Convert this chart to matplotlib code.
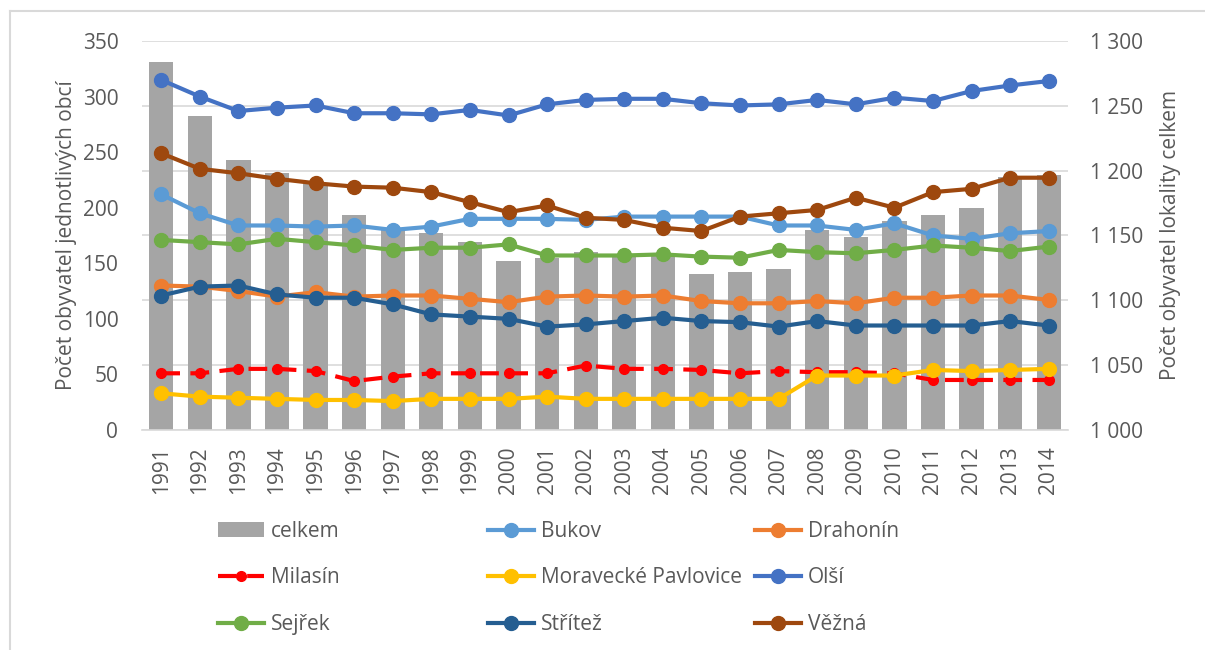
import matplotlib
matplotlib.use("Agg")
import matplotlib.pyplot as plt
from matplotlib.lines import Line2D
from matplotlib.ticker import FuncFormatter
import numpy as np

years = list(range(1991, 2015))

celkem = [1284, 1242, 1208, 1198, 1190, 1166, 1155, 1152, 1145, 1130, 1133, 1137,
          1136, 1135, 1120, 1122, 1124, 1154, 1149, 1161, 1166, 1171, 1195, 1197]

bukov = [212, 195, 184, 184, 183, 184, 180, 183, 190, 190, 190, 189,
         192, 192, 192, 192, 184, 184, 180, 186, 175, 172, 177, 179]
drahonin = [130, 129, 125, 120, 124, 120, 121, 121, 118, 115, 120, 121,
            120, 121, 116, 114, 114, 116, 114, 119, 119, 121, 121, 117]
milasin = [51, 51, 55, 55, 53, 44, 48, 51, 51, 51, 51, 58,
           55, 55, 54, 51, 53, 52, 52, 51, 45, 45, 45, 45]
mor_pavlovice = [33, 30, 29, 28, 27, 27, 26, 28, 28, 28, 30, 28,
                 28, 28, 28, 28, 28, 49, 49, 49, 54, 53, 54, 55]
olsi = [315, 300, 287, 290, 292, 285, 285, 284, 288, 283, 293, 297,
        298, 298, 294, 292, 293, 297, 293, 299, 296, 305, 310, 314]
sejrek = [171, 169, 167, 172, 169, 166, 162, 164, 164, 167, 157, 157,
          157, 158, 156, 155, 162, 160, 159, 162, 166, 164, 161, 165]
stritez = [121, 129, 130, 122, 119, 119, 113, 104, 102, 100, 93, 95,
           98, 101, 98, 97, 93, 98, 94, 94, 94, 94, 98, 94]
vezna = [249, 235, 231, 226, 222, 219, 218, 214, 205, 196, 202, 191,
         189, 182, 179, 192, 195, 198, 209, 200, 214, 217, 227, 227]

series = [
    ("Bukov", bukov, "#5B9BD5"),
    ("Drahonín", drahonin, "#ED7D31"),
    ("Milasín", milasin, "#FF0000"),
    ("Moravecké Pavlovice", mor_pavlovice, "#FFC000"),
    ("Olší", olsi, "#4472C4"),
    ("Sejřek", sejrek, "#70AD47"),
    ("Střítež", stritez, "#255E91"),
    ("Věžná", vezna, "#9E480E"),
]

TEXT = "#595959"
GRID = "#D9D9D9"
FS = 15
plt.rcParams["font.family"] = ["Open Sans", "DejaVu Sans"]
plt.rcParams["font.size"] = FS

fig = plt.figure(figsize=(12.05, 6.5), dpi=100)
ax = fig.add_axes([0.1178, 0.3385, 0.7685, 0.5984])
ax2 = ax.twinx()  # lines (left scale) drawn above the bars
x = np.arange(len(years))

# bars on the base axes, scale shown on the right
bars = ax.bar(x, celkem, width=0.63, color="#A5A5A5", label="celkem", zorder=2)
ax.set_ylim(1000, 1300)
ax.set_yticks(np.arange(1000, 1301, 50))
ax.yaxis.tick_right()
ax.yaxis.set_label_position("right")
ax.yaxis.set_major_formatter(FuncFormatter(lambda v, p: f"{int(v):,}".replace(",", " ")))
ax.grid(axis="y", color=GRID, linewidth=1.2, zorder=0)
ax.set_axisbelow(True)
ax.set_xlim(-0.5, len(years) - 0.5)
ax.set_xticks(x)
ax.set_xticklabels([str(y) for y in years], rotation=90)
ax.set_ylabel("Počet obyvatel lokality celkem", color=TEXT, rotation=90, labelpad=12)
for s in ["top", "left", "right"]:
    ax.spines[s].set_visible(False)
ax.spines["bottom"].set_color(GRID)
ax.spines["bottom"].set_linewidth(1.2)
ax.tick_params(axis="both", length=0, colors=TEXT, labelsize=FS)
ax.tick_params(axis="x", pad=12)
ax.tick_params(axis="y", pad=16)

handles = {}
for name, vals, col in series:
    if name == "Milasín":
        h, = ax2.plot(x, vals, color=col, linewidth=3.0, linestyle=(0, (4.5, 2.5)),
                      marker="o", markersize=7, label=name)
    else:
        h, = ax2.plot(x, vals, color=col, linewidth=3.0, marker="o",
                      markersize=10, label=name)
    handles[name] = h
ax2.set_ylim(0, 350)
ax2.set_yticks(np.arange(0, 351, 50))
ax2.yaxis.tick_left()
ax2.yaxis.set_label_position("left")
ax2.set_ylabel("Počet obyvatel jednotlivých obcí", color=TEXT, labelpad=4)
for s in ["top", "left", "right", "bottom"]:
    ax2.spines[s].set_visible(False)
ax2.tick_params(axis="y", length=0, colors=TEXT, labelsize=FS, pad=17)

# legend laid out in three columns, row-wise like the original
columns = [
    [(bars, "celkem"), (handles["Milasín"], "Milasín"), (handles["Sejřek"], "Sejřek")],
    [(handles["Bukov"], "Bukov"), (handles["Moravecké Pavlovice"], "Moravecké Pavlovice"),
     (handles["Střítež"], "Střítež")],
    [(handles["Drahonín"], "Drahonín"), (handles["Olší"], "Olší"), (handles["Věžná"], "Věžná")],
]
col_x = [218 / 1205, 488 / 1205, 755 / 1205]
for cx, col in zip(col_x, columns):
    leg = fig.legend([h for h, _ in col], [l for _, l in col], loc="upper left",
                     bbox_to_anchor=(cx, 1 - 521 / 650), frameon=False, borderpad=0,
                     borderaxespad=0, handlelength=2.2, handletextpad=0.35,
                     labelspacing=1.22, fontsize=FS)
    for t in leg.get_texts():
        t.set_color(TEXT)

# light outer frame of the chart
fig.add_artist(Line2D([10 / 1205, 10 / 1205], [0, 1 - 11 / 650], transform=fig.transFigure,
                      color=GRID, linewidth=1.5))
fig.add_artist(Line2D([10 / 1205, 1], [1 - 11 / 650, 1 - 11 / 650], transform=fig.transFigure,
                      color=GRID, linewidth=1.5))

fig.savefig("out.png", dpi=100)
